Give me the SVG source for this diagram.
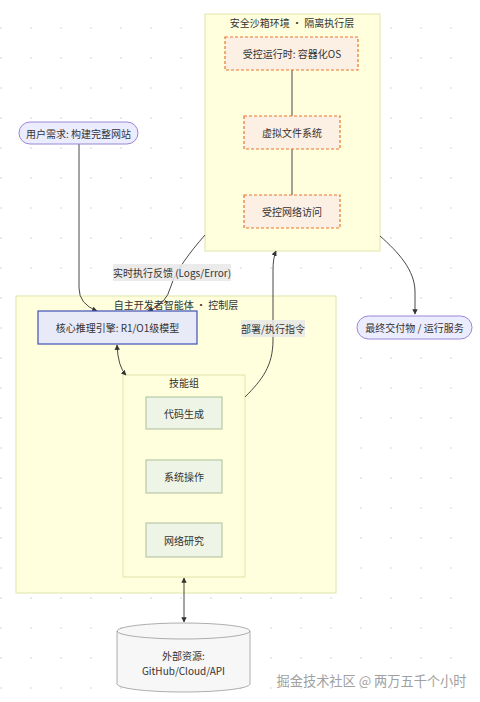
<svg xmlns="http://www.w3.org/2000/svg" width="480" height="702" viewBox="0 0 480 702">
<defs>
<pattern id="dots" x="0" y="28" width="30" height="30" patternUnits="userSpaceOnUse">
<circle cx="1" cy="0" r="1" fill="#e2e2e8"/>
<circle cx="1" cy="30" r="1" fill="#e2e2e8"/>
</pattern>
<marker id="ah" viewBox="0 0 10 10" refX="9" refY="5" markerWidth="6" markerHeight="6" orient="auto-start-reverse">
<path d="M0,0 L10,5 L0,10 z" fill="#333"/>
</marker>
<style>
text{font-family:"Noto Sans CJK SC","Noto Sans",sans-serif;font-size:10px;fill:#333;text-anchor:middle;dominant-baseline:central}
.cluster{fill:#ffffde;stroke:#dfe5a6;stroke-width:1}
.sb{fill:#fcefe3;stroke:#e8762e;stroke-width:1.2;stroke-dasharray:3 2}
.sk{fill:#eef5e6;stroke:#a9bf98;stroke-width:1}
.term{fill:#ececff;stroke:#9a88d8;stroke-width:1}
.edge{fill:none;stroke:#333;stroke-width:0.9}
.lbl{fill:#e8e8e8;opacity:0.85}
</style>
</defs>
<rect width="480" height="702" fill="#fff"/>
<rect width="480" height="702" fill="url(#dots)"/>

<g id="sandbox">
<rect class="cluster" x="205" y="14" width="175" height="237"/>
<text x="292" y="22">安全沙箱环境 · 隔离执行层</text>
</g>
<g id="control">
<rect class="cluster" x="16" y="296" width="320" height="297"/>
<text x="176" y="304">自主开发者智能体 · 控制层</text>
</g>
<g id="skills">
<rect class="cluster" x="123" y="375" width="122" height="202" stroke="#d6e0a0"/>
<text x="184" y="382">技能组</text>
</g>

<g id="edges">
<path class="edge" stroke="#8a8a70" d="M292,70 L292,116"/>
<path class="edge" stroke="#8a8a70" d="M292,149 L292,195"/>
<path class="edge" marker-end="url(#ah)" d="M79,143 L79,288 Q79,304 97,311"/>
<path class="edge" marker-end="url(#ah)" d="M205,235 C190,252 175,272 171,286 Q166,305 148,311"/>
<path class="edge" marker-end="url(#ah)" d="M245,397 C262,380 273,366 273,340 L273,270 Q273,258 276,251"/>
<path class="edge" marker-end="url(#ah)" d="M380,236 C398,252 415,270 415,292 L415,314"/>
<path class="edge" marker-start="url(#ah)" marker-end="url(#ah)" d="M117,345 Q118,367 126,375"/>
<path class="edge" marker-start="url(#ah)" marker-end="url(#ah)" d="M184,578 L184,622"/>
<rect class="lbl" x="113" y="264" width="118" height="17"/>
<text x="172" y="272.5">实时执行反馈 (Logs/Error)</text>
<rect class="lbl" x="241" y="320" width="64" height="17"/>
<text x="273" y="328.5">部署/执行指令</text>
</g>

<g id="runtime">
<rect class="sb" x="225" y="37" width="133" height="33"/>
<text x="292" y="53.5">受控运行时: 容器化OS</text>
</g>
<g id="vfs">
<rect class="sb" x="244" y="116" width="96" height="33"/>
<text x="292" y="132.5">虚拟文件系统</text>
</g>
<g id="net">
<rect class="sb" x="244" y="195" width="96" height="33"/>
<text x="292" y="211.5">受控网络访问</text>
</g>

<g id="user">
<rect class="term" x="19" y="122" width="119" height="22" rx="11"/>
<text x="78.5" y="133">用户需求: 构建完整网站</text>
</g>
<g id="core">
<rect x="38" y="311" width="159" height="33" fill="#e8eaf8" stroke="#3f51b5" stroke-width="1.2"/>
<text x="117.5" y="327.5">核心推理引擎: R1/O1级模型</text>
</g>
<g id="output">
<rect class="term" x="357" y="316" width="115" height="23" rx="11.5"/>
<text x="414.5" y="327.5">最终交付物 / 运行服务</text>
</g>
<g id="code">
<rect class="sk" x="146" y="397" width="76" height="32"/>
<text x="184" y="413">代码生成</text>
</g>
<g id="sysop">
<rect class="sk" x="146" y="460" width="76" height="33"/>
<text x="184" y="476.5">系统操作</text>
</g>
<g id="research">
<rect class="sk" x="146" y="523" width="76" height="34"/>
<text x="184" y="540">网络研究</text>
</g>
<g id="external">
<path d="M117,631 A66.5,8 0 0 1 250,631 L250,684 A66.5,8 0 0 1 117,684 Z" fill="#f7f7f7" stroke="#999" stroke-width="0.8"/>
<path d="M117,631 A66.5,8 0 0 0 250,631" fill="none" stroke="#999" stroke-width="0.8"/>
<text x="183.5" y="655">外部资源:</text>
<text x="183.5" y="670">GitHub/Cloud/API</text>
</g>
<text x="371.5" y="680" style="font-size:13.2px;fill:#a0a0a0">掘金技术社区 @ 两万五千个小时</text>
</svg>
